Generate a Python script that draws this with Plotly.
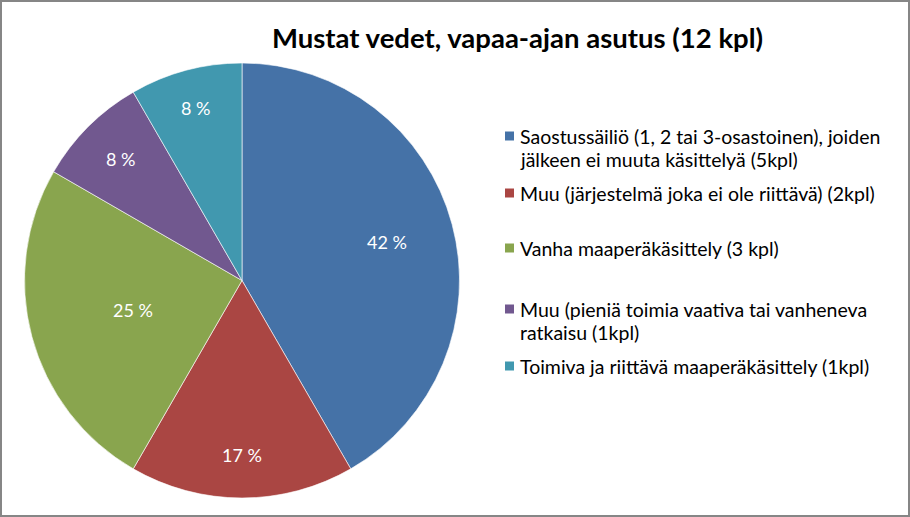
import math
import plotly.graph_objects as go

labels = [
    'Saostussäiliö (1, 2 tai 3-osastoinen), joiden<br>jälkeen ei muuta käsittelyä (5kpl)',
    'Muu (järjestelmä joka ei ole riittävä) (2kpl)',
    'Vanha maaperäkäsittely (3 kpl)',
    'Muu (pieniä toimia vaativa tai vanheneva<br>ratkaisu (1kpl)',
    'Toimiva ja riittävä maaperäkäsittely (1kpl)',
]
values = [5, 2, 3, 1, 1]
colors = ['#4572A7', '#AA4643', '#89A54E', '#71588F', '#4198AF']

W, H = 910, 517
font = 'Lato, Calibri, sans-serif'

# pie geometry (pixels)
cx, cy, R = 242, 280.5, 217.5
# how far out (fraction of radius) Excel put each percent label
label_r = [0.69, 0.80, 0.52, 0.79, 0.82]

total = sum(values)
pct_text = [f'{round(v / total * 100)} %' for v in values]

fig = go.Figure(go.Pie(
    labels=labels,
    values=values,
    textinfo='none',
    sort=False,
    direction='clockwise',
    marker=dict(colors=colors, line=dict(color='rgba(255,255,255,0.6)', width=1)),
    domain=dict(x=[(cx - R) / W, (cx + R) / W], y=[1 - (cy + R) / H, 1 - (cy - R) / H]),
    showlegend=False,
    hoverinfo='label+percent',
))

annotations = []
shapes = []

# percent labels along each slice's bisector
cum = 0
for v, t, fr in zip(values, pct_text, label_r):
    ang = (cum + v / 2) / total * 2 * math.pi
    cum += v
    px_ = cx + fr * R * math.sin(ang)
    py_ = cy - fr * R * math.cos(ang)
    annotations.append(dict(
        x=px_ / W, y=1 - py_ / H, xref='paper', yref='paper',
        xanchor='center', yanchor='middle', showarrow=False,
        text=t, font=dict(family=font, size=18, color='white'),
    ))

# legend drawn by hand so the Excel spacing can be matched
legend_y = [136, 193, 248, 309, 366]
line_h = 23
for lab, col, yc in zip(labels, colors, legend_y):
    for i, line in enumerate(lab.split('<br>')):
        annotations.append(dict(
            x=518 / W, y=1 - (yc + i * line_h) / H, xref='paper', yref='paper',
            xanchor='left', yanchor='middle', showarrow=False,
            text=line, font=dict(family=font, size=19.5, color='black'),
        ))
    shapes.append(dict(
        type='rect', xref='paper', yref='paper',
        x0=505 / W, x1=514 / W,
        y0=1 - (yc + 4.5) / H, y1=1 - (yc - 4.5) / H,
        fillcolor=col, line=dict(width=0),
    ))

# chart border
shapes.append(dict(
    type='rect', xref='paper', yref='paper', x0=0, x1=1, y0=0, y1=1,
    line=dict(color='#868686', width=4), fillcolor='rgba(0,0,0,0)',
))

annotations.append(dict(
    x=517 / W, y=1 - 38 / H, xref='paper', yref='paper',
    xanchor='center', yanchor='middle', showarrow=False,
    text='<b>Mustat vedet, vapaa-ajan asutus (12 kpl)</b>',
    font=dict(family=font, size=27.5, color='black'),
))

fig.update_layout(
    width=W, height=H,
    margin=dict(l=0, r=0, t=0, b=0),
    paper_bgcolor='white',
    plot_bgcolor='white',
    annotations=annotations,
    shapes=shapes,
)

fig.write_html('out.html', config={'displayModeBar': False},
               post_script="document.body.style.margin='0px';")
